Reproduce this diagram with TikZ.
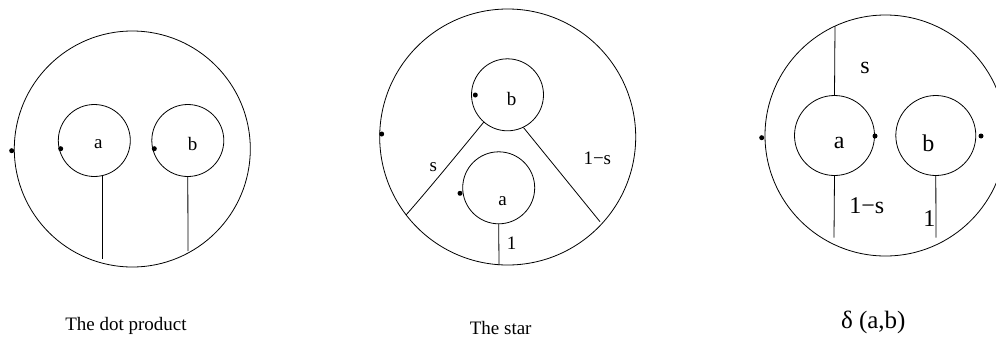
\documentclass[tikz,border=0pt]{standalone}
\usepackage{fontspec}
\setmainfont{Liberation Serif}
\begin{document}
\begin{tikzpicture}[x=1pt, y=-1pt, line width=0.8pt,
    disk/.style={draw, circle, inner sep=0pt, minimum size=#1},
    basept/.style={circle, fill, inner sep=0pt, minimum size=5pt},
    lab/.style={font=\fontsize{19}{22}\selectfont, inner sep=0pt},
    biglab/.style={font=\fontsize{24}{28}\selectfont, inner sep=0pt}]
  \useasboundingbox (0,0) rectangle (996,338);
  % the dot product
  \node[disk=236pt] (outL) at (132.3,149) {};
  \node[disk=72pt] (aL) at (94.3,140.5) {};
  \node[disk=72pt] (bL) at (187.8,140.5) {};
  \node[lab] (aLtxt) at (98.3,144) {a};
  \node[lab] (bLtxt) at (192.7,144) {b};
  \node[basept] (pL) at (11.7,150.7) {};
  \node[basept] (paL) at (60.7,148.7) {};
  \node[basept] (pbL) at (154.3,148.7) {};
  \coordinate (endaL) at (102.7,259.3);
  \coordinate (endbL) at (188,251);
  \draw (aL.-77) -- (aL.-77 |- endaL);
  \draw (bL.south) -- (endbL);
  \node[lab, anchor=base] (capL) at (126,330.5) {The dot product};
  % the star
  \node[disk=256pt] (outM) at (507.7,137) {};
  \node[disk=72pt] (bM) at (507.5,94.8) {};
  \node[disk=72pt] (aM) at (498.7,187.8) {};
  \node[lab] (bMtxt) at (511.7,99) {b};
  \node[lab] (aMtxt) at (502.7,200.7) {a};
  \node[basept] (pM) at (381.7,134) {};
  \node[basept] (pbM) at (475.3,95) {};
  \node[basept] (paM) at (460,193.3) {};
  \coordinate (endsM) at (406,215);
  \coordinate (endtM) at (600,221.7);
  \coordinate (endaM) at (499,265);
  \draw (bM.-131) .. controls (432.5,184.7) and (414,206) .. (endsM);
  \draw (bM.-64) -- (endtM);
  \draw (aM.south) -- (endaM);
  \node[lab] (sM) at (433.3,166.7) {s};
  \node[lab] (tM) at (597.3,158.3) {1−s};
  \node[lab] (oneM) at (511.7,243.3) {1};
  \node[lab, anchor=base] (capM) at (500.7,334) {The star};
  % delta (a,b)
  \node[disk=241pt] (outR) at (885.5,135.5) {};
  \node[disk=80pt] (aR) at (834.5,135.5) {};
  \node[disk=80pt] (bR) at (935.8,135.5) {};
  \node[biglab] (aRtxt) at (839.3,143.3) {a};
  \node[biglab] (bRtxt) at (928.3,143.3) {b};
  \node[basept] (pR) at (761.7,137.7) {};
  \node[basept] (paR) at (875,136) {};
  \node[basept] (pbR) at (981,136) {};
  \coordinate (topR) at (835,26);
  \coordinate (endaR) at (834,237.7);
  \coordinate (endbR) at (936,237.7);
  \draw (aR.north) -- (topR);
  \draw (aR.south) -- (endaR);
  \draw (bR.south) -- (endbR);
  \node[biglab] (sR) at (865,68.3) {s};
  \node[biglab] (tR) at (866.7,206) {1−s};
  \node[biglab] (oneR) at (929.3,218.3) {1};
  \node[font=\fontsize{25}{30}\selectfont, inner sep=0pt, anchor=base] (capR) at (873.3,328.5) {δ (a,b)};
\end{tikzpicture}
\end{document}
